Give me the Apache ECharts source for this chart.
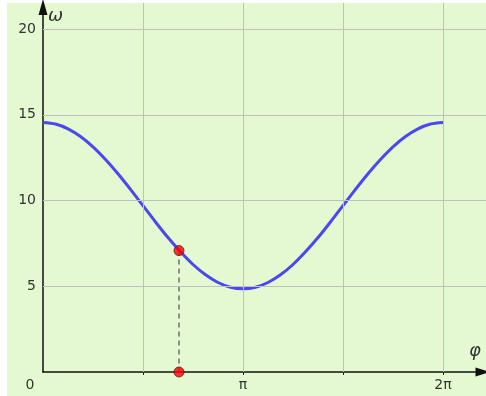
<!DOCTYPE html>
<html><head><meta charset="utf-8">
<script src="https://cdn.jsdelivr.net/npm/echarts@6/dist/echarts.min.js"></script>
<style>html,body{margin:0;padding:0;background:#fff}#c{width:486px;height:396px}</style>
</head><body><div id="c"></div>
<script>
const phi = [0, 0.196, 0.393, 0.589, 0.785, 0.982, 1.178, 1.374, 1.571, 1.767, 1.963, 2.160, 2.356, 2.553, 2.749, 2.945, 3.142,
  3.338, 3.534, 3.731, 3.927, 4.123, 4.320, 4.516, 4.712, 4.909, 5.105, 5.301, 5.498, 5.694, 5.890, 6.087, 6.283];
const omega = [14.55, 14.46, 14.18, 13.73, 13.13, 12.39, 11.56, 10.65, 9.70, 8.75, 7.84, 7.01, 6.27, 5.67, 5.22, 4.94, 4.85,
  4.94, 5.22, 5.67, 6.27, 7.01, 7.84, 8.75, 9.70, 10.65, 11.56, 12.39, 13.13, 13.73, 14.18, 14.46, 14.55];
const markPhi = 2.136, markOmega = 7.08;
const xTickValues = [1.5708, 3.1416, 4.7124, 6.2832];
const xLabelValues = [0, 3.1416, 6.2832];
const xLabelTexts = ['0', 'π', '2π'];
const yLabelValues = [5, 10, 15, 20];

const chart = echarts.init(document.getElementById('c'), null, {renderer: 'canvas'});
const gridColor = '#c0c0c0';
chart.setOption({
  animation: false,
  backgroundColor: '#ffffff',
  graphic: [
    {type: 'rect', z: -10, shape: {x: 7, y: 3, width: 479, height: 393}, style: {fill: '#e4f8d2'}},
    {type: 'text', z: 10, left: 48, top: 7, style: {text: 'ω', font: 'italic 18px "DejaVu Sans"', fill: '#333'}},
    {type: 'text', z: 10, left: 469, top: 342, style: {text: 'φ', font: 'italic 18px "DejaVu Sans"', fill: '#333'}}
  ],
  grid: {left: 43, right: 0, top: 3, bottom: 24, containLabel: false},
  xAxis: {
    type: 'value', min: 0, max: 6.9587,
    axisLine: {show: true, onZero: false, lineStyle: {color: '#111', width: 1.5}, symbol: ['none', 'triangle'], symbolSize: [9, 15], symbolOffset: [0, -3]},
    axisTick: {show: true, customValues: xTickValues, length: 3, lineStyle: {color: '#222', width: 1}},
    axisLabel: {customValues: xLabelValues, margin: 6, color: '#333', fontFamily: 'DejaVu Sans', fontSize: 14,
      formatter: v => { const i = xLabelValues.findIndex(t => Math.abs(t - v) < 1e-3); const s = i >= 0 ? xLabelTexts[i] : ''; return i === 0 ? '{z|' + s + '}' : s; },
      rich: {z: {padding: [0, 26, 0, 0], color: '#333', fontFamily: 'DejaVu Sans', fontSize: 14}}},
    splitLine: {show: false}
  },
  yAxis: {
    type: 'value', min: 0, max: 21.52,
    axisLine: {show: true, onZero: false, lineStyle: {color: '#111', width: 1.5}, symbol: ['none', 'triangle'], symbolSize: [9, 16], symbolOffset: [0, -4]},
    axisTick: {show: false},
    axisLabel: {customValues: yLabelValues, margin: 7, color: '#333', fontFamily: 'DejaVu Sans', fontSize: 14},
    splitLine: {show: false}
  },
  series: [
    {type: 'line', z: 1, data: [], silent: true,
      markLine: {silent: true, symbol: ['none', 'none'], label: {show: false}, animation: false,
        lineStyle: {color: gridColor, width: 1, type: 'solid'},
        data: xTickValues.map(v => ({xAxis: v})).concat(yLabelValues.map(v => ({yAxis: v})))}},
    {type: 'line', z: 3, data: phi.map((p, i) => [p, omega[i]]), showSymbol: false, smooth: 0.3,
      lineStyle: {color: '#4a48ee', width: 3, cap: 'butt'}},
    {type: 'line', z: 4, data: [[markPhi, markOmega], [markPhi, 0]], showSymbol: false,
      lineStyle: {color: '#6e6e6e', width: 1.5, type: [5, 4]}},
    {type: 'scatter', z: 5, data: [[markPhi, markOmega], [markPhi, 0]], symbolSize: 10,
      itemStyle: {color: '#ff0000', borderColor: '#5a1a1a', borderWidth: 1}}
  ]
});
</script></body></html>
